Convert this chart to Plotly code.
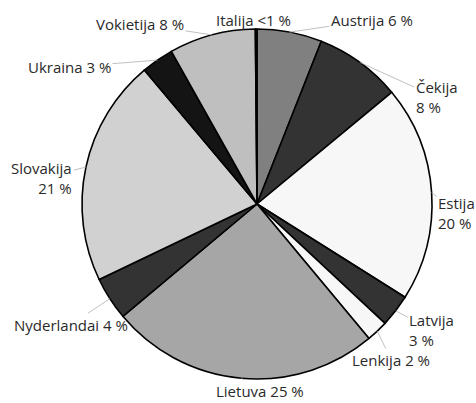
import numpy as np
import plotly.graph_objects as go

countries = ["Austrija", "Čekija", "Estija", "Latvija", "Lenkija", "Lietuva",
             "Nyderlandai", "Slovakija", "Ukraina", "Vokietija", "Italija"]
shares = [6, 8, 20, 3, 2, 25, 4, 21, 3, 8, 0.15]
share_text = ["6 %", "8 %", "20 %", "3 %", "2 %", "25 %", "4 %", "21 %", "3 %", "8 %", "<1 %"]

colors = ["#808080", "#333333", "#f7f7f7", "#333333", "#f7f7f7", "#a6a6a6",
          "#333333", "#d1d1d1", "#141414", "#bfbfbf", "#bfbfbf"]
# label layout: (break line?, dx, dy offsets in px, align)
label_style = [
    (False, 82, -12, "left"),
    (True, 77, 35, "left"),
    (True, 25, 20, "left"),
    (True, 36, 19, "left"),
    (False, 14, 29, "left"),
    (False, 19, 13, "left"),
    (False, -39, 26, "left"),
    (True, -44, 11, "right"),
    (False, -88, 7, "left"),
    (False, -72, -11, "left"),
    (False, -3, -9, "left"),
]

W, H = 476, 403
cx, cy, R = 257, 204, 175

fig = go.Figure(go.Pie(
    labels=countries, values=shares, sort=False, direction="clockwise", rotation=0,
    marker=dict(colors=colors, line=dict(color="black", width=1.6)),
    textinfo="none", hoverinfo="label+percent", showlegend=False,
    domain=dict(x=[(cx - R) / W, (cx + R) / W], y=[1 - (cy + R) / H, 1 - (cy - R) / H]),
))

vals = np.array(shares, dtype=float)
cum = np.cumsum(vals)
mid = (cum - vals / 2) / vals.sum() * 2 * np.pi
annotations = []
for name, txt, ang, (brk, dx, dy, al) in zip(countries, share_text, mid, label_style):
    px = cx + R * np.sin(ang)
    py = cy - R * np.cos(ang)
    annotations.append(dict(
        x=px / W, y=1 - py / H, xref="paper", yref="paper",
        text=f"{name}<br>{txt}" if brk else f"{name} {txt}",
        showarrow=True, arrowhead=0, arrowwidth=0.8, arrowcolor="#b0b0b0",
        ax=dx, ay=dy, align=al,
        font=dict(family="Open Sans", size=15, color="#2a2a2a"),
    ))

fig.update_layout(
    width=W, height=H, margin=dict(l=0, r=0, t=0, b=0),
    paper_bgcolor="white", plot_bgcolor="white",
    annotations=annotations,
)
fig.write_html("out.html", config={"displayModeBar": False},
               post_script="document.body.style.margin='0';document.body.style.overflow='hidden';")
